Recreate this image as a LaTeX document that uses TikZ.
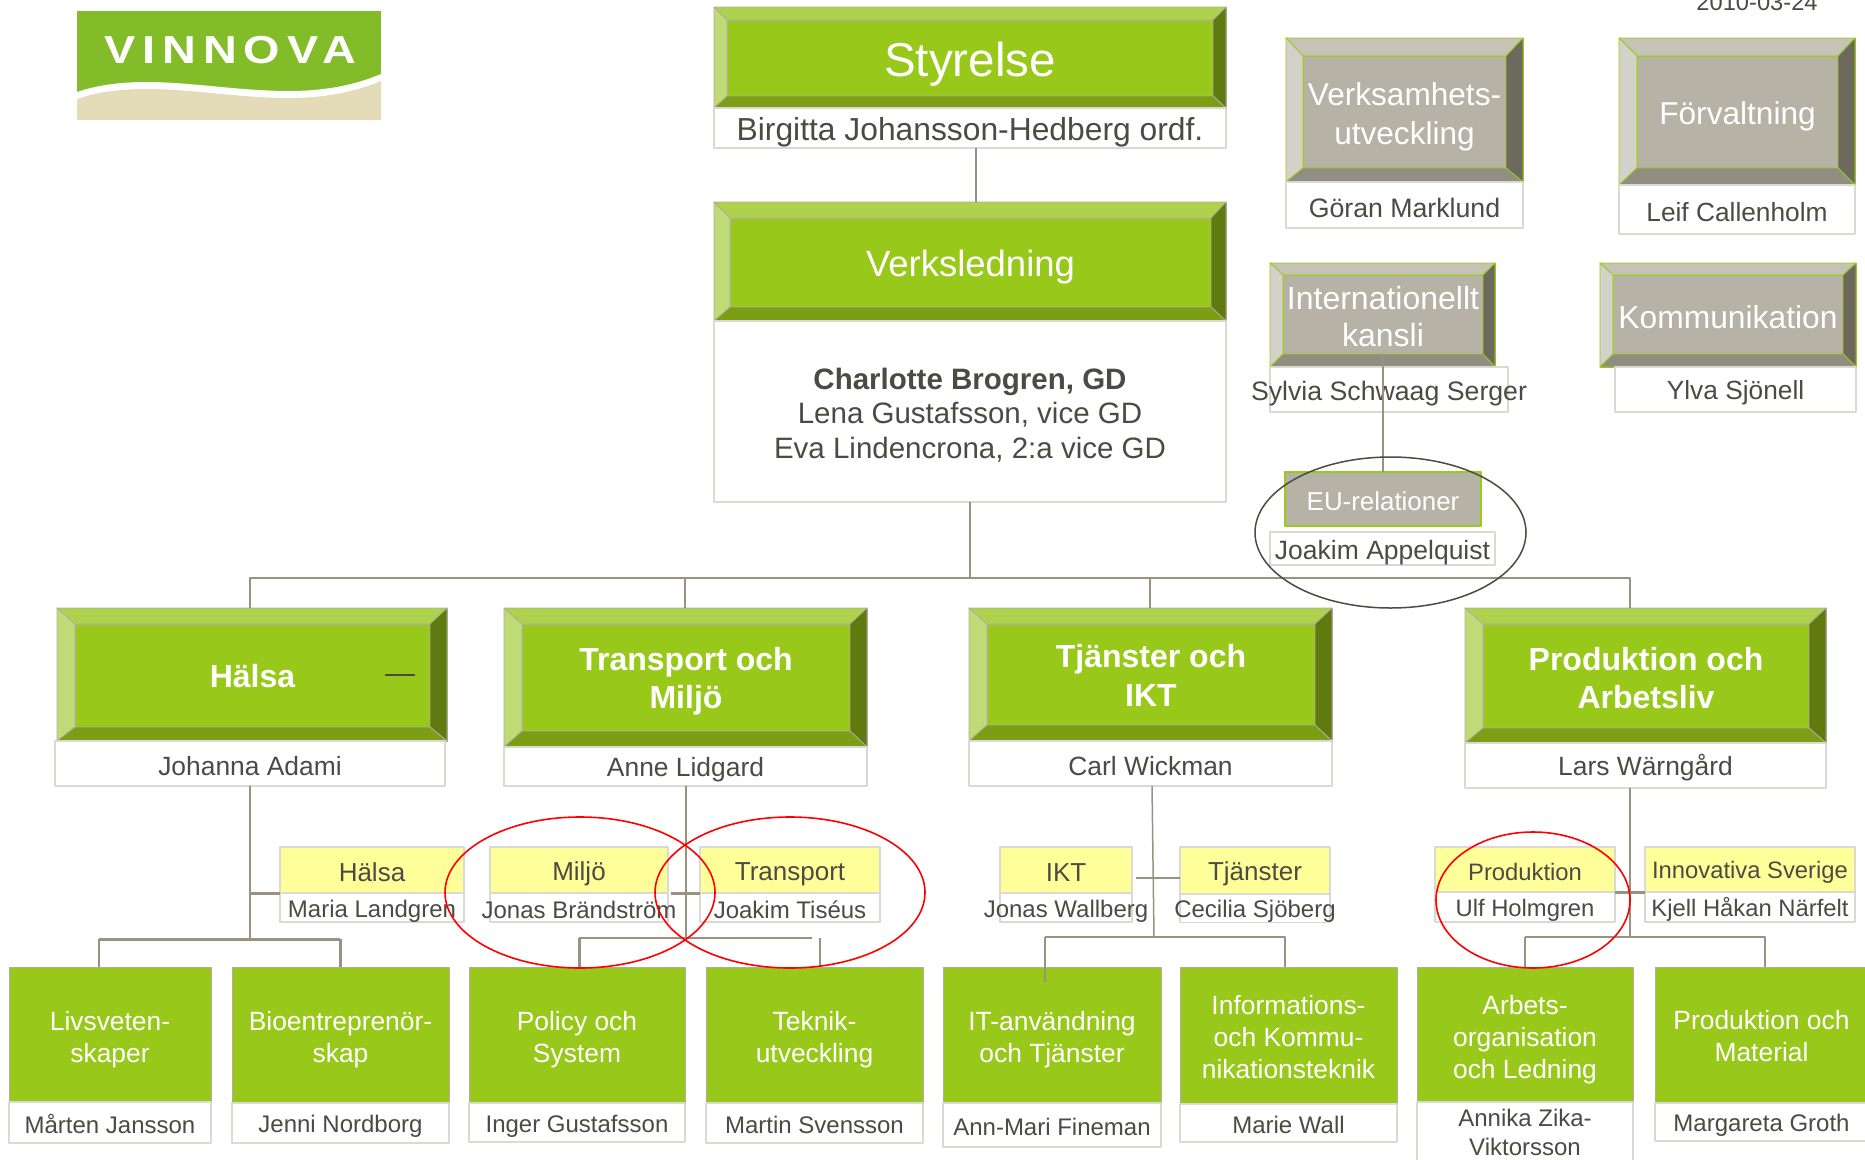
\documentclass[tikz,border=0pt]{standalone}
\usepackage{fontspec}
\setmainfont{Liberation Sans}
\newfontfamily\logofont[LetterSpace=15]{Liberation Sans}
\definecolor{textc}{HTML}{4D4A42}
\definecolor{linkc}{HTML}{98927F}
\definecolor{capc}{HTML}{DAD9D4}
\definecolor{grnF}{HTML}{98C81A}
\definecolor{grnT}{HTML}{AED24B}
\definecolor{grnL}{HTML}{BEDB75}
\definecolor{grnR}{HTML}{5F7A0F}
\definecolor{grnB}{HTML}{7C9E15}
\definecolor{grnE}{HTML}{B0AC9E}
\definecolor{graF}{HTML}{B6B2A5}
\definecolor{graT}{HTML}{C6C3B6}
\definecolor{graL}{HTML}{D3D1C9}
\definecolor{graR}{HTML}{6D695D}
\definecolor{graB}{HTML}{918E81}
\definecolor{graE}{HTML}{99CC1A}
\definecolor{yelF}{HTML}{FFFF99}
\definecolor{logoG}{HTML}{82BC28}
\definecolor{logoB}{HTML}{E4DBB8}
\newcommand{\fsz}[2]{\fontsize{#1}{#2}\selectfont}
\newcommand{\cellstrut}{\rule[-.1em]{0pt}{1.1em}}
\tikzset{
	cellb/.style={rectangle,inner sep=0pt,outer sep=0pt},
	txt/.style={cellb,align=center,execute at begin node=\cellstrut,execute at end node=\cellstrut},
	outerb/.style={cellb,fill=#1F,draw=#1E,line width=.8pt},
	coreb/.style={txt,fill=#1F,draw=#1E,line width=.8pt,text=white},
	capt/.style={txt,fill=white,draw=capc,line width=1.4pt,text=textc},
	yelb/.style={txt,fill=yelF,draw=capc,line width=1.2pt,text=textc},
	subb/.style={txt,fill=grnF,draw=grnE,line width=.8pt,text=white,font=\fsz{26.4}{32}},
	namem/.style={font=\fsz{26.4}{31}},
	names/.style={font=\fsz{24}{29}},
	namet/.style={font=\fsz{23.8}{28}},
	link/.style={linkc,line width=1.5pt},
	linkb/.style={linkc,line width=3pt},
	redring/.style={red,line width=1.6pt},
}
\newcommand{\orgcell}[7]{\node[#1,minimum width={(#5-#3)*1pt},minimum height={(#6-#4)*1pt}] (#2) at ({(#3+#5)/2},{(#4+#6)/2}) {#7};}
\newcommand{\bevels}[3]{%
	\filldraw[fill=#3T,draw=#3E,line width=.8pt] (#1.north west)--(#1.north east)--(#2.north east)--(#2.north west)--cycle;
	\filldraw[fill=#3L,draw=#3E,line width=.8pt] (#1.north west)--(#1.south west)--(#2.south west)--(#2.north west)--cycle;
	\filldraw[fill=#3R,draw=#3E,line width=.8pt] (#1.north east)--(#1.south east)--(#2.south east)--(#2.north east)--cycle;
	\filldraw[fill=#3B,draw=#3E,line width=.8pt] (#1.south west)--(#1.south east)--(#2.south east)--(#2.south west)--cycle;
}
\begin{document}
\begin{tikzpicture}[x=1pt,y=-1pt,>=stealth,line join=round]
	\useasboundingbox (0,0) rectangle (1865,1159);
	% logo
	\fill[logoG] (77,11) rectangle (381,120);
	\fill[white] (77,92) .. controls (100,84) and (125,82) .. (148,82) .. controls (190,82) and (240,91) .. (289,91) .. controls (325,91) and (355,85) .. (381,74) -- (381,120) -- (77,120) -- cycle;
	\fill[logoB] (77,99) .. controls (100,91) and (125,89) .. (148,89) .. controls (190,89) and (240,98) .. (289,98) .. controls (325,98) and (355,92) .. (381,81) -- (381,120) -- (77,120) -- cycle;
	\node[txt,text=white,font=\logofont\bfseries\fsz{39}{44}] (logotext) at (230,46) {\scalebox{1.2}[1]{VINNOVA}};
	\node[txt,text=textc,font=\fsz{23.7}{28}] (datum) at (1757,0) {2010-03-24};
	% ledning
	\orgcell{outerb=grn}{styr}{714}{7}{1226}{108}{}
	\orgcell{coreb=grn,font=\fsz{47.5}{54}}{styrin}{727}{20}{1213}{96}{Styrelse}
	\bevels{styr}{styrin}{grn}
	\orgcell{capt,font=\fsz{31.8}{37}}{styrcap}{714}{108}{1226}{148}{Birgitta Johansson-Hedberg ordf.}
	\orgcell{outerb=grn}{verk}{714}{202}{1226}{321}{}
	\orgcell{coreb=grn,font=\fsz{36.5}{42}}{verkin}{730}{218}{1211}{307}{Verksledning}
	\bevels{verk}{verkin}{grn}
	\orgcell{capt,text height=97.5pt,font=\fsz{29.5}{34.5}}{verkcap}{714}{321}{1226}{502}{\textbf{Charlotte Brogren, GD}\\Lena Gustafsson, vice GD\\Eva Lindencrona, 2:a vice GD}
	% stab
	\orgcell{outerb=gra}{vhu}{1286}{38}{1523}{182}{}
	\orgcell{coreb=gra,text height=71.6pt,font=\fsz{31.6}{39}}{vhuin}{1303}{56}{1506}{168}{Verksamhets-\\utveckling}
	\bevels{vhu}{vhuin}{gra}
	\orgcell{capt,font=\fsz{26.7}{33}}{vhucap}{1286}{182}{1523}{228}{Göran Marklund}
	\orgcell{outerb=gra}{forv}{1619}{38}{1855}{185}{}
	\orgcell{coreb=gra,font=\fsz{31.6}{39}}{forvin}{1637}{56}{1838}{168}{Förvaltning}
	\bevels{forv}{forvin}{gra}
	\orgcell{capt,font=\fsz{26.3}{31}}{forvcap}{1619}{185}{1855}{234}{Leif Callenholm}
	\orgcell{outerb=gra}{intk}{1270}{263}{1495}{367}{}
	\orgcell{coreb=gra,text height=67.4pt,font=\fsz{32}{37}}{intkin}{1283}{275}{1483}{354}{Internationellt\\kansli}
	\bevels{intk}{intkin}{gra}
	\orgcell{capt,font=\fsz{26.7}{32}}{intkcap}{1270}{367}{1508}{412}{\makebox[0pt]{Sylvia Schwaag Serger}}
	\orgcell{outerb=gra}{komm}{1600}{263}{1856}{367}{}
	\orgcell{coreb=gra,font=\fsz{31.8}{37}}{kommin}{1613}{275}{1843}{354}{Kommunikation}
	\bevels{komm}{kommin}{gra}
	\orgcell{capt,font=\fsz{26.3}{31}}{kommcap}{1615}{367}{1856}{412}{Ylva Sjönell}
	\orgcell{coreb=gra,draw=graE,line width=1.2pt,font=\fsz{25.9}{30}}{eu}{1285}{472}{1481}{526}{EU-relationer}
	\orgcell{capt,font=\fsz{26.5}{31}}{eucap}{1270}{532}{1495}{565}{Joakim Appelquist}
	% avdelningar
	\orgcell{outerb=grn}{halsa}{57}{608}{447}{741}{}
	\orgcell{coreb=grn,font=\bfseries\fsz{32}{38.5}}{halsain}{75}{624}{430}{727}{\raisebox{2pt}{Hälsa}}
	\bevels{halsa}{halsain}{grn}
	\orgcell{capt,namem}{halsacap}{55}{741}{445}{786}{Johanna Adami}
	\orgcell{outerb=grn}{tran}{504}{608}{867}{747}{}
	\orgcell{coreb=grn,text height=68.9pt,font=\bfseries\fsz{32}{38.5}}{tranin}{522}{624}{850}{731}{Transport och\\Miljö}
	\bevels{tran}{tranin}{grn}
	\orgcell{capt,namem}{trancap}{504}{747}{867}{786}{Anne Lidgard}
	\orgcell{outerb=grn}{tjan}{969}{608}{1332}{741}{}
	\orgcell{coreb=grn,text height=66.7pt,font=\bfseries\fsz{32}{38.5}}{tjanin}{987}{624}{1315}{725}{Tjänster och\\IKT}
	\bevels{tjan}{tjanin}{grn}
	\orgcell{capt,namem}{tjancap}{969}{741}{1332}{786}{Carl Wickman}
	\orgcell{outerb=grn}{prod}{1465}{608}{1826}{743}{}
	\orgcell{coreb=grn,text height=68.9pt,font=\bfseries\fsz{32}{38.5}}{prodin}{1483}{624}{1809}{728}{Produktion och\\Arbetsliv}
	\bevels{prod}{prodin}{grn}
	\orgcell{capt,namem}{prodcap}{1465}{743}{1826}{788}{Lars Wärngård}
	% gula rutor
	\orgcell{capt,names}{yhalcap}{280}{893}{464}{922}{Maria Landgren}
	\orgcell{yelb,font=\fsz{26}{30}}{yhal}{280}{847}{464}{893}{Hälsa}
	\orgcell{capt,names}{ymilcap}{490}{893}{668}{922}{\makebox[0pt]{Jonas Brändström}}
	\orgcell{yelb,font=\fsz{26}{30}}{ymil}{490}{847}{668}{893}{Miljö}
	\orgcell{capt,names}{ytracap}{700}{893}{880}{922}{Joakim Tiséus}
	\orgcell{yelb,font=\fsz{26}{30}}{ytra}{700}{847}{880}{893}{Transport}
	\orgcell{capt,names}{yiktcap}{1000}{893}{1132}{922}{\makebox[0pt]{Jonas Wallberg}}
	\orgcell{yelb,font=\fsz{26}{30}}{yikt}{1000}{847}{1132}{893}{IKT}
	\orgcell{capt,names}{ytjacap}{1180}{894}{1330}{922}{\makebox[0pt]{Cecilia Sjöberg}}
	\orgcell{yelb,font=\fsz{26}{30}}{ytja}{1180}{847}{1330}{894}{Tjänster}
	\orgcell{capt,namet}{yprocap}{1435}{892}{1615}{922}{Ulf Holmgren}
	\orgcell{yelb,namet}{ypro}{1435}{847}{1615}{892}{Produktion}
	\orgcell{capt,namet}{yinncap}{1645}{892}{1855}{922}{Kjell Håkan Närfelt}
	\orgcell{yelb,namet}{yinn}{1645}{847}{1855}{892}{Innovativa Sverige}
	% enheter
	\orgcell{subb,text height=60.9pt}{livs}{9}{967}{211}{1102}{Livsveten-\\skaper}
	\orgcell{capt,names}{livscap}{9}{1102}{211}{1143}{Mårten Jansson}
	\orgcell{subb,text height=60.9pt}{bio}{232}{967}{449}{1103}{Bioentreprenör-\\skap}
	\orgcell{capt,names}{biocap}{232}{1103}{449}{1143}{Jenni Nordborg}
	\orgcell{subb,text height=60.9pt}{poli}{469}{967}{685}{1103}{Policy och\\System}
	\orgcell{capt,names}{policap}{469}{1103}{685}{1142}{Inger Gustafsson}
	\orgcell{subb,text height=60.9pt}{tekn}{706}{967}{923}{1103}{Teknik-\\utveckling}
	\orgcell{capt,names}{tekncap}{706}{1103}{923}{1143}{Martin Svensson}
	\orgcell{subb,text height=60.9pt}{itan}{943}{967}{1161}{1103}{IT-användning\\och Tjänster}
	\orgcell{capt,names}{itancap}{943}{1103}{1161}{1147}{Ann-Mari Fineman}
	\orgcell{subb,text height=88.1pt}{info}{1180}{967}{1397}{1104}{Informations-\\och Kommu-\\nikationsteknik}
	\orgcell{capt,names}{infocap}{1180}{1104}{1397}{1142}{Marie Wall}
	\orgcell{subb,text height=92.9pt}{arbo}{1417}{967}{1633}{1102}{Arbets-\\organisation\\och Ledning}
	\orgcell{capt,names}{arbocap}{1417}{1102}{1633}{1165}{Annika Zika-\\Viktorsson}
	\orgcell{subb,text height=56.1pt}{pmat}{1655}{967}{1868}{1103}{Produktion och\\Material}
	\orgcell{capt,names}{pmatcap}{1655}{1103}{1868}{1141}{Margareta Groth}
	% linjer
	\coordinate (styrdrop) at (976,148);
	\draw[link] (styrdrop) -- (styrdrop |- verk.north);
	\draw[link] (intkin.south) -- (intkin.south |- eu.north);
	\coordinate (busA) at (250,578);
	\coordinate (busB) at (685,578);
	\coordinate (busC) at (1150,578);
	\coordinate (busD) at (1630,578);
	\draw[link] (verkcap.south) -- (verkcap.south |- busA);
	\draw[link] (busA |- halsa.north) -- (busA) -- (busD) -- (busD |- prod.north);
	\draw[link] (busB) -- (busB |- tran.north);
	\draw[link] (busC) -- (busC |- tjan.north);
	% Halsa
	\coordinate (halsT) at (250,786);
	\coordinate (halsJ) at (250,939);
	\coordinate (halsL) at (99,939);
	\coordinate (halsR) at (340,939);
	\draw[link] (halsT) -- (halsJ);
	\draw[linkb] (halsT |- yhal.south west) -- (yhal.south west);
	\draw[linkb] (halsL) -- (halsR);
	\draw[link] (halsL) -- (halsL |- livs.north);
	\draw[linkb] (halsR) -- (halsR |- bio.north);
	\coordinate (dashL) at (385,675);
	\coordinate (dashR) at (415,675);
	\draw[textc,line width=2.4pt] (dashL) -- (dashR);
	% Transport
	\coordinate (tranT) at (686,786);
	\coordinate (tranJ) at (686,938);
	\coordinate (tranL) at (579,938);
	\coordinate (tranR) at (812,938);
	\coordinate (teknT) at (820,938);
	\draw[link] (tranT) -- (tranJ);
	\draw[linkb] (ymil.south east) ++(3,0) -- (yhal.south east -| ytra.west);
	\draw[link] (tranL) -- (tranR);
	\draw[linkb] (tranL) -- (tranL |- poli.north);
	\draw[link] (teknT) -- (teknT |- tekn.north);
	% Tjanster
	\coordinate (tjanT) at (1152,786);
	\coordinate (tjanJ) at (1154,937);
	\coordinate (tjanL) at (1045,937);
	\coordinate (tjanR) at (1285,937);
	\coordinate (tjanB) at (1136,878);
	\draw[link] (tjanT) -- (tjanJ);
	\draw[link] (tjanB) -- (tjanB -| ytja.west);
	\draw[link] (tjanL) -- (tjanR) -- (tjanR |- info.north);
	\draw[link] (tjanL) -- (1045,982);
	% Produktion
	\coordinate (prodT) at (1630,788);
	\coordinate (prodJ) at (1630,937);
	\coordinate (prodL) at (1525,937);
	\coordinate (prodR) at (1765,937);
	\draw[link] (prodT) -- (prodJ);
	\draw[linkb] (ypro.south east) -- (yinn.south west);
	\draw[link] (prodL) -- (prodR) -- (prodR |- pmat.north);
	\draw[link] (prodL) -- (prodL |- arbo.north);
	% ringar
	\draw[textc,line width=1.5pt] (1390.5,532.5) ellipse [x radius=135.5,y radius=75.5];
	\draw[redring] (580,892.5) ellipse [x radius=135,y radius=75.5];
	\draw[redring] (790,892.5) ellipse [x radius=135,y radius=75.5];
	\draw[redring] (1533,900) ellipse [x radius=97,y radius=68];
\end{tikzpicture}
\end{document}
